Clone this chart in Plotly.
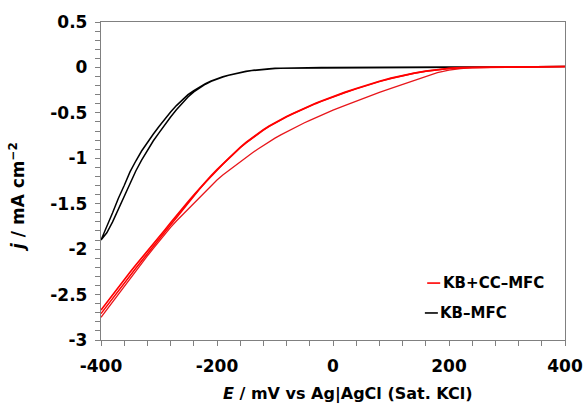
import plotly.graph_objects as go

# ---------------- data ----------------
E_grid = [-400, -390, -380, -370, -360, -350, -340, -330, -320, -310, -300, -290, -280, -270, -260,
          -250, -240, -230, -220, -210, -200, -190, -180, -170, -160, -150, -140, -130, -120, -110,
          -100, -90, -80, -70, -60, -50, -40, -30, -20, -10, 0, 20, 40, 60, 80, 100, 120, 140, 160,
          180, 200, 220, 240, 260, 300, 350, 400]

# KB-MFC, forward scan (right/lower branch)
kb_fwd = [-1.90, -1.82, -1.70, -1.56, -1.42, -1.28, -1.14, -1.02, -0.91, -0.81, -0.72, -0.63, -0.545, -0.465, -0.39,
          -0.325, -0.27, -0.225, -0.185, -0.153, -0.127, -0.105, -0.087, -0.071, -0.057, -0.045, -0.035, -0.027, -0.020, -0.015,
          -0.011, -0.008, -0.006, -0.004, -0.003, -0.002, -0.002, -0.001, -0.001, 0.0, 0.0, 0.0, 0.0, 0.0, 0.0, 0.0, 0.0, 0.001, 0.001,
          0.002, 0.002, 0.003, 0.003, 0.004, 0.005, 0.007, 0.009]
# KB-MFC, reverse scan (left/upper branch)
kb_rev = [-1.90, -1.75, -1.60, -1.44, -1.30, -1.15, -1.03, -0.92, -0.825, -0.735, -0.65, -0.565, -0.49, -0.42, -0.355,
          -0.30, -0.255, -0.215, -0.18, -0.15, -0.125, -0.103, -0.085, -0.069, -0.055, -0.043, -0.033, -0.025, -0.019, -0.014,
          -0.010, -0.007, -0.005, -0.004, -0.003, -0.002, -0.002, -0.001, -0.001, 0.0, 0.0, 0.0, 0.0, 0.0, 0.0, 0.0, 0.0, 0.001, 0.001,
          0.002, 0.002, 0.003, 0.003, 0.004, 0.005, 0.007, 0.009]

# KB+CC-MFC, upper scan (left-most)
kbcc_upper = [-2.67, -2.585, -2.50, -2.415, -2.335, -2.255, -2.175, -2.10, -2.025, -1.948, -1.87, -1.79, -1.71, -1.63, -1.555,
              -1.48, -1.405, -1.33, -1.26, -1.19, -1.125, -1.062, -1.0, -0.937, -0.88, -0.826, -0.776, -0.729, -0.685, -0.645,
              -0.608, -0.574, -0.541, -0.509, -0.479, -0.45, -0.421, -0.395, -0.37, -0.345, -0.322, -0.275, -0.232, -0.19, -0.152, -0.118, -0.088, -0.062, -0.04,
              -0.022, -0.01, -0.003, 0.0, 0.002, 0.004, 0.007, 0.01]
# KB+CC-MFC, second scan overlapping the upper one
kbcc_middle = [-2.71, -2.625, -2.54, -2.455, -2.37, -2.29, -2.21, -2.13, -2.05, -1.97, -1.89, -1.805, -1.725, -1.645, -1.567,
               -1.49, -1.413, -1.338, -1.266, -1.196, -1.13, -1.066, -1.004, -0.941, -0.884, -0.83, -0.78, -0.733, -0.689, -0.649,
               -0.612, -0.578, -0.545, -0.513, -0.483, -0.454, -0.425, -0.399, -0.374, -0.349, -0.326, -0.279, -0.236, -0.194, -0.156, -0.121, -0.091, -0.064, -0.042,
               -0.024, -0.011, -0.004, 0.0, 0.002, 0.004, 0.007, 0.01]
# KB+CC-MFC, lower branch (thin)
kbcc_lower = [-2.75, -2.665, -2.58, -2.49, -2.405, -2.32, -2.24, -2.157, -2.075, -1.995, -1.915, -1.835, -1.76, -1.69, -1.625,
              -1.56, -1.495, -1.43, -1.365, -1.30, -1.24, -1.185, -1.135, -1.085, -1.035, -0.99, -0.945, -0.90, -0.857, -0.815,
              -0.778, -0.742, -0.708, -0.675, -0.643, -0.612, -0.583, -0.553, -0.524, -0.497, -0.47, -0.42, -0.37, -0.32, -0.275, -0.23, -0.185, -0.14, -0.095,
              -0.058, -0.03, -0.012, -0.003, 0.0, 0.003, 0.006, 0.009]

x_tickvals = [-400, -200, 0, 200, 400]
x_ticktext = ["-400", "-200", "0", "200", "400"]
y_tickvals = [0.5, 0, -0.5, -1, -1.5, -2, -2.5, -3]
y_ticktext = ["0.5", "0", "-0.5", "-1", "-1.5", "-2", "-2.5", "-3"]

series_names = ["KB+CC\u2013MFC", "KB\u2013MFC"]
series_colors = ["#ff0000", "#000000"]

# ---------------- figure ----------------
FONT = "DejaVu Sans, Liberation Sans, sans-serif"
fig = go.Figure()

# KB-MFC as one closed scan: forward then reverse
fig.add_trace(go.Scatter(
    x=E_grid + E_grid[::-1], y=kb_fwd + kb_rev[::-1], mode="lines",
    line=dict(color=series_colors[1], width=1.5), showlegend=False, hoverinfo="skip"))
fig.add_trace(go.Scatter(
    x=E_grid, y=kbcc_lower, mode="lines",
    line=dict(color="#e8161b", width=1.3), showlegend=False, hoverinfo="skip"))
fig.add_trace(go.Scatter(
    x=E_grid, y=kbcc_middle, mode="lines",
    line=dict(color=series_colors[0], width=1.5), showlegend=False, hoverinfo="skip"))
fig.add_trace(go.Scatter(
    x=E_grid, y=kbcc_upper, mode="lines",
    line=dict(color=series_colors[0], width=1.7), showlegend=False, hoverinfo="skip"))

axis_common = dict(
    showline=True, linecolor="#808080", linewidth=1.3, mirror=True,
    ticks="outside", ticklen=5, tickwidth=1.2, tickcolor="#808080",
    showgrid=False, zeroline=False, automargin=False,
    tickfont=dict(family=FONT, size=17, color="#000000", weight="bold"),
)

fig.update_xaxes(range=[-400, 400], tickvals=x_tickvals, ticktext=x_ticktext,
                 minor=dict(dtick=40, ticks="outside", ticklen=5, tickwidth=1.2, tickcolor="#808080"),
                 ticklabelstandoff=5, **axis_common)
fig.update_yaxes(range=[-3, 0.5], tickvals=y_tickvals, ticktext=y_ticktext,
                 minor=dict(dtick=0.1, ticks="outside", ticklen=5, tickwidth=1.2, tickcolor="#808080"),
                 ticklabelstandoff=4, **axis_common)

W, H = 584, 408
ML, MR, MT, MB = 101, 19, 22, 68

annotations = [
    dict(text="<i>E</i> / mV vs Ag|AgCl (Sat. KCl)", xref="paper", yref="paper",
         x=0.532, y=-0.17, xanchor="center", yanchor="middle", showarrow=False,
         font=dict(family=FONT, size=16, color="#000000", weight="bold")),
    dict(text="<i>j</i> / mA cm<sup>\u22122</sup>", xref="paper", yref="paper",
         x=-0.181, y=0.45, xanchor="center", yanchor="middle", textangle=-90, showarrow=False,
         font=dict(family=FONT, size=17, color="#000000", weight="bold")),
]
shapes = []
leg_y = [0.179, 0.085]
leg_x0 = [0.703, 0.698]
for name, col, yy, x0 in zip(series_names, series_colors, leg_y, leg_x0):
    annotations.append(dict(text=name, xref="paper", yref="paper", x=x0 + 0.029, y=yy,
                            xanchor="left", yanchor="middle", showarrow=False,
                            font=dict(family=FONT, size=15, color="#000000", weight="bold")))
    shapes.append(dict(type="line", xref="paper", yref="paper", x0=x0, x1=x0 + 0.028, y0=yy, y1=yy,
                       line=dict(color=col, width=1.6)))

fig.update_layout(
    width=W, height=H,
    margin=dict(l=ML, r=MR, t=MT, b=MB, autoexpand=False),
    paper_bgcolor="white", plot_bgcolor="white",
    annotations=annotations, shapes=shapes,
    font=dict(family=FONT),
    showlegend=False,
)

fig.write_html("out.html", config={"displayModeBar": False},
               post_script="document.body.style.margin='0';document.body.style.overflow='hidden';")
